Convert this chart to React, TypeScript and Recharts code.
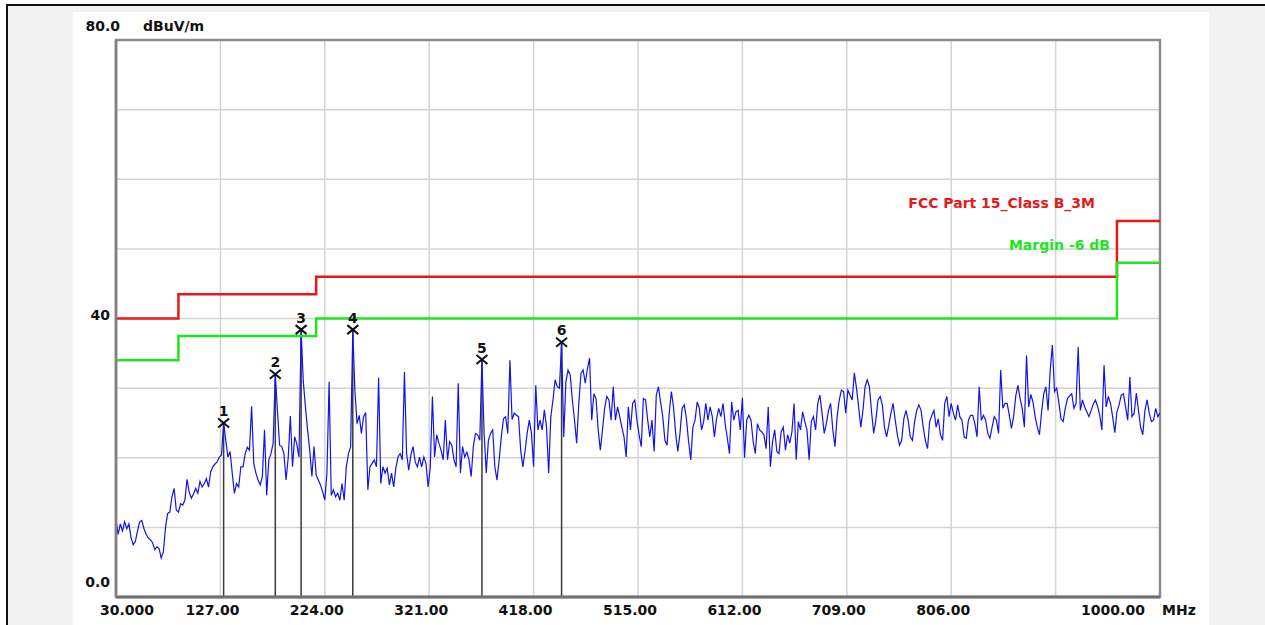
import React from 'react';
import { ComposedChart, Line, Scatter, XAxis, YAxis, CartesianGrid, ReferenceArea } from 'recharts';

// ---- axes ----
const xTicks = [30, 127, 224, 321, 418, 515, 612, 709, 806, 903, 1000];
const xTickLabels = ['30.000', '127.00', '224.00', '321.00', '418.00', '515.00', '612.00', '709.00', '806.00', '', '1000.00'];
const yTicks = [0, 10, 20, 30, 40, 50, 60, 70, 80];
const yTickLabels = ['0.0', '', '', '', '40', '', '', '', '80.0'];
const yUnit = 'dBuV/m';
const xUnit = 'MHz';

// ---- limit line (FCC Part 15 Class B, 3 m) ----
const limitName = 'FCC Part 15_Class B_3M';
const limitFreqs = [30, 88, 216, 960, 1000];
const limitLevels = [40, 43.5, 46, 54, 54];
const marginName = 'Margin -6 dB';
const marginOffset = -6;

// ---- measured trace (MHz grid start/step, dBuV/m levels) ----
const traceStart = 30;
const traceStep = 2;
const traceLevels = [
  11.0, 9.0, 10.5, 9.5, 10.8, 9.8, 10.5, 8.5, 7.5, 8.0,
  9.5, 10.8, 11.0, 9.8, 9.0, 8.5, 8.2, 7.8, 6.8, 7.2,
  7.0, 5.6, 6.5, 10.0, 12.0, 12.2, 14.4, 15.6, 12.5, 12.2,
  13.4, 13.2, 13.9, 16.9, 15.1, 14.2, 14.8, 15.6, 14.9, 16.6,
  15.8, 16.3, 17.0, 15.8, 18.0, 18.7, 19.1, 19.4, 20.1, 20.4,
  25.0, 22.5, 20.1, 20.9, 17.8, 14.9, 16.3, 15.8, 18.7, 18.7,
  20.6, 21.5, 21.1, 27.4, 19.2, 17.8, 16.8, 16.1, 17.3, 24.0,
  14.6, 19.7, 20.6, 22.1, 32.0, 26.8, 21.8, 21.6, 20.6, 16.8,
  20.0, 26.0, 18.7, 23.0, 22.0, 20.1, 38.4, 31.0, 27.3, 24.0,
  21.1, 17.3, 21.6, 17.5, 16.8, 16.1, 15.1, 13.9, 17.8, 30.9,
  14.6, 15.4, 14.4, 14.9, 13.9, 16.3, 13.9, 18.7, 20.6, 21.6,
  38.4, 29.5, 24.9, 26.1, 23.5, 25.9, 26.5, 15.4, 18.7, 19.2,
  19.7, 18.7, 31.5, 16.3, 18.7, 17.8, 18.5, 16.1, 17.8, 15.8,
  18.5, 20.1, 20.6, 19.7, 32.3, 20.6, 18.2, 20.4, 21.6, 19.4,
  18.7, 20.1, 18.7, 20.1, 19.2, 15.8, 18.7, 28.8, 20.1, 23.3,
  22.1, 21.1, 19.7, 25.4, 19.7, 22.3, 21.8, 19.7, 18.7, 30.7,
  17.8, 21.6, 20.1, 20.8, 19.7, 17.3, 21.6, 23.5, 23.3, 22.5,
  34.1, 23.5, 17.8, 22.5, 23.5, 24.0, 18.7, 16.8, 19.7, 23.0,
  25.6, 25.9, 23.5, 34.0, 25.5, 26.4, 26.1, 25.9, 21.1, 18.7,
  20.9, 23.5, 25.4, 23.5, 18.7, 30.4, 24.0, 25.4, 24.0, 26.9,
  24.4, 17.8, 25.9, 28.3, 31.2, 30.2, 30.0, 36.6, 23.0, 30.9,
  32.6, 31.9, 28.3, 25.4, 22.1, 27.8, 32.1, 32.6, 30.7, 32.8,
  34.3, 25.4, 29.2, 28.5, 24.0, 21.1, 24.0, 27.1, 28.8, 28.3,
  25.4, 30.2, 25.4, 27.3, 25.9, 24.4, 23.0, 20.1, 27.3, 24.0,
  27.8, 28.3, 25.4, 23.3, 21.6, 28.5, 28.3, 25.4, 23.0, 25.4,
  20.9, 29.0, 30.2, 28.0, 25.9, 22.5, 21.8, 26.4, 29.5, 27.3,
  23.5, 20.9, 23.5, 27.1, 27.6, 25.6, 22.3, 19.7, 24.4, 25.4,
  28.0, 27.1, 24.0, 25.2, 27.8, 25.4, 27.3, 25.9, 23.0, 25.6,
  27.1, 25.9, 27.8, 24.9, 22.8, 20.6, 28.0, 25.4, 26.6, 26.8,
  24.0, 28.6, 20.0, 25.4, 26.1, 25.4, 22.3, 20.6, 24.9, 24.0,
  23.7, 23.3, 21.3, 27.3, 18.7, 22.3, 24.0, 20.9, 20.6, 23.7,
  24.4, 21.1, 23.3, 22.1, 23.7, 27.8, 19.7, 25.2, 24.0, 26.6,
  25.2, 24.0, 19.7, 25.2, 25.9, 24.0, 27.8, 29.0, 26.4, 23.5,
  24.9, 26.8, 27.8, 24.0, 21.6, 25.9, 28.3, 29.7, 29.5, 26.4,
  29.7, 29.0, 28.3, 32.2, 30.0, 27.3, 24.4, 26.8, 30.2, 31.2,
  30.2, 26.6, 23.5, 25.4, 28.3, 28.8, 27.6, 24.4, 23.0, 24.7,
  26.4, 27.8, 25.4, 23.3, 21.8, 22.5, 25.6, 26.8, 25.4, 23.0,
  22.5, 25.2, 26.8, 27.6, 26.8, 24.4, 22.5, 21.3, 25.2, 26.1,
  26.8, 24.4, 25.6, 23.3, 22.5, 27.8, 28.8, 25.9, 27.8, 26.4,
  25.4, 27.6, 25.9, 25.4, 23.0, 22.8, 25.4, 26.1, 26.1, 24.9,
  23.0, 30.2, 25.4, 26.1, 25.4, 23.5, 22.8, 24.4, 25.9, 25.4,
  23.5, 32.6, 27.1, 27.8, 27.8, 26.1, 24.2, 25.9, 28.9, 30.4,
  28.5, 27.1, 24.4, 34.7, 27.3, 29.1, 28.0, 25.9, 24.4, 23.3,
  26.6, 29.2, 30.2, 26.8, 32.6, 36.2, 29.5, 30.0, 28.0, 25.6,
  25.2, 27.1, 28.5, 28.9, 29.2, 27.1, 27.8, 35.9, 26.8, 28.3,
  27.3, 26.6, 25.9, 26.8, 27.7, 28.3, 27.4, 26.1, 24.0, 33.3,
  27.3, 28.8, 27.8, 25.9, 23.6, 26.6, 27.6, 29.0, 29.2, 27.3,
  25.4, 31.6, 25.9, 26.4, 29.3, 26.8, 24.4, 23.3, 26.8, 28.3,
  26.4, 25.2, 25.4, 27.1, 25.9, 26.4,
];

// ---- peak markers ----
const markerFreqs = [130, 178, 202, 250, 370, 444];
const markerLevels = [25.0, 32.0, 38.4, 38.4, 34.1, 36.6];
const markerLabels = ['1', '2', '3', '4', '5', '6'];

// ---- derived tables for the library ----
const traceData = traceLevels.map((v, i) => ({ f: traceStart + i * traceStep, v }));
const limitData = limitFreqs.map((f, i) => ({ f, v: limitLevels[i] }));
const marginData = limitFreqs.map((f, i) => ({ f, v: limitLevels[i] + marginOffset }));
const markerData = markerFreqs.map((f, i) => ({ f, v: markerLevels[i], label: markerLabels[i] }));
const markerLineData: { f: number; v: number | null }[] = [];
markerFreqs.forEach((f, i) => {
  markerLineData.push({ f, v: 0 });
  markerLineData.push({ f, v: markerLevels[i] });
  markerLineData.push({ f, v: null });
});

const FONT = '"DejaVu Sans", Verdana, sans-serif';
const W = 1265;
const H = 625;

const renderXTick = (props: any) => {
  const { x, y, payload } = props;
  const i = xTicks.indexOf(Number(payload.value));
  const label = i >= 0 ? xTickLabels[i] : '';
  if (!label) return <g />;
  let dx = -8;
  if (i === 0) dx = 11;
  if (i === xTicks.length - 1) dx = -47;
  return (
    <text x={x + dx} y={y + 13} textAnchor="middle" dominantBaseline="central"
      fontFamily={FONT} fontSize={14} fontWeight="bold" fill="#111">{label}</text>
  );
};

const renderYTick = (props: any) => {
  const { x, y, payload } = props;
  const i = yTicks.indexOf(Number(payload.value));
  const label = i >= 0 ? yTickLabels[i] : '';
  if (!label) return <g />;
  let ex = x - 6;
  let dy = -4;
  if (i === yTicks.length - 1) { ex = x + 4; dy = -14; }
  if (i === 0) { dy = -15.5; }
  return (
    <text x={ex} y={y + dy} textAnchor="end" dominantBaseline="central"
      fontFamily={FONT} fontSize={14} fontWeight="bold" fill="#111">{label}</text>
  );
};

const renderMarker = (props: any) => {
  const { cx, cy, payload } = props;
  if (cx == null || cy == null) return <g />;
  const s = 5.5;
  return (
    <g>
      <line x1={cx - s} y1={cy - s + 1} x2={cx + s} y2={cy + s - 1} stroke="#111" strokeWidth={2} />
      <line x1={cx - s} y1={cy + s - 1} x2={cx + s} y2={cy - s + 1} stroke="#111" strokeWidth={2} />
      <text x={cx} y={cy - 12} textAnchor="middle" dominantBaseline="central"
        fontFamily={FONT} fontSize={14} fontWeight="bold" fill="#111">{payload.label}</text>
    </g>
  );
};

const textStyle: React.CSSProperties = {
  position: 'absolute',
  fontFamily: FONT,
  fontSize: 14,
  fontWeight: 'bold',
  lineHeight: '14px',
  whiteSpace: 'nowrap',
};

export default function App() {
  return (
    <div style={{ position: 'absolute', left: 0, top: 0, width: W, height: H, overflow: 'hidden', background: '#ffffff' }}>
      <div style={{ position: 'absolute', left: 6, top: 4, width: W, height: H, borderLeft: '2px solid #111', borderTop: '2px solid #111', background: '#f2f2f2' }} />
      <div style={{ position: 'absolute', left: 73, top: 12, width: 1136, height: H, background: '#ffffff' }} />
      <ComposedChart width={W} height={H} margin={{ top: 40, right: 105, bottom: 0, left: 76 }}
        style={{ position: 'absolute', left: 0, top: 0 }}>
        <CartesianGrid stroke="#d4d4d4" strokeWidth={1.5} />
        <XAxis type="number" dataKey="f" domain={[30, 1000]} ticks={xTicks} interval={0} allowDataOverflow
          height={28} tickSize={0} tickMargin={0} tickLine={false}
          axisLine={{ stroke: '#707070', strokeWidth: 3 }} tick={renderXTick} />
        <YAxis type="number" dataKey="v" domain={[0, 80]} ticks={yTicks} interval={0} allowDataOverflow
          width={40} tickSize={0} tickMargin={0} tickLine={false}
          axisLine={{ stroke: '#808080', strokeWidth: 2.5 }} tick={renderYTick} />
        <ReferenceArea x1={30} x2={1000} y1={0} y2={80} fill="none" fillOpacity={0}
          stroke="#8c8c8c" strokeWidth={2.5} ifOverflow="visible" />
        <Line data={markerLineData} dataKey="v" stroke="#3a3a3a" strokeWidth={1.5} dot={false} activeDot={false}
          connectNulls={false} isAnimationActive={false} />
        <Line data={traceData} dataKey="v" stroke="#1414e6" strokeWidth={1.2} dot={false} activeDot={false}
          isAnimationActive={false} />
        <Line data={limitData} dataKey="v" type="stepAfter" stroke="#e61919" strokeWidth={2.5} dot={false}
          activeDot={false} isAnimationActive={false} />
        <Line data={marginData} dataKey="v" type="stepAfter" stroke="#1ee61e" strokeWidth={2.5} dot={false}
          activeDot={false} isAnimationActive={false} />
        <Scatter data={markerData} dataKey="v" shape={renderMarker} isAnimationActive={false} />
      </ComposedChart>
      <div style={{ ...textStyle, left: 143, top: 19, color: '#111' }}>{yUnit}</div>
      <div style={{ ...textStyle, left: 1162, top: 603, color: '#111' }}>{xUnit}</div>
      <div style={{ ...textStyle, right: W - 1095, top: 196, color: '#e61919' }}>{limitName}</div>
      <div style={{ ...textStyle, right: W - 1110, top: 238, color: '#1ee61e' }}>{marginName}</div>
    </div>
  );
}
